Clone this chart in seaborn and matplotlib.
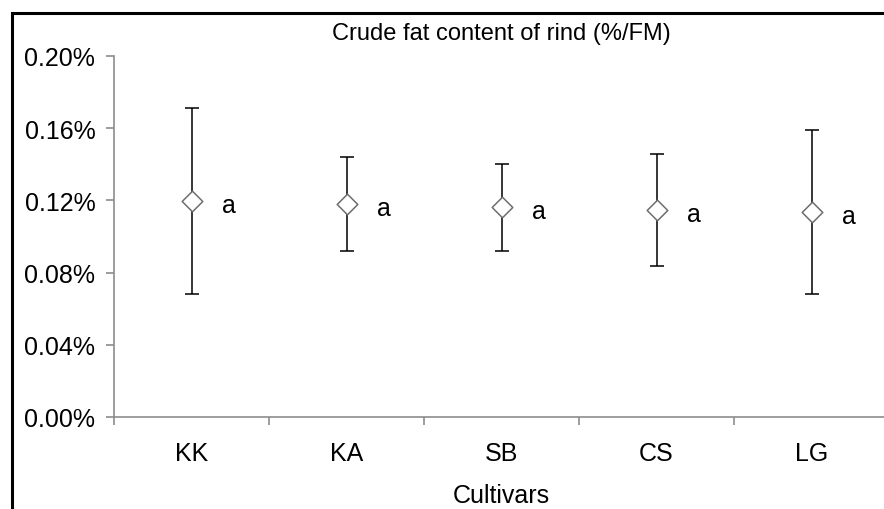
import matplotlib
matplotlib.use("Agg")
import matplotlib.pyplot as plt
from matplotlib.patches import Rectangle
from matplotlib.ticker import FuncFormatter, FixedLocator
import pandas as pd
import seaborn as sns

# values (crude fat, % of fresh mass)
cultivars = ["KK", "KA", "SB", "CS", "LG"]
fat_mean = [0.1197, 0.1180, 0.1163, 0.1147, 0.1136]
fat_err = [0.0515, 0.0263, 0.0241, 0.0310, 0.0454]
letters = ["a", "a", "a", "a", "a"]

df = pd.DataFrame({"cultivar": cultivars, "fat": fat_mean, "err": fat_err, "letter": letters})

sns.set_style("white")
plt.rcParams["font.family"] = ["Liberation Sans", "DejaVu Sans"]
plt.rcParams["text.color"] = "black"
plt.rcParams["xtick.labelcolor"] = "black"
plt.rcParams["ytick.labelcolor"] = "black"
plt.rcParams["axes.labelcolor"] = "black"

fig = plt.figure(figsize=(8.84, 5.10), dpi=100)
ax = fig.add_axes([114 / 884, 1 - 418 / 510, 775 / 884, (418 - 57) / 510])

# error bars first, markers on top
ax.errorbar(range(len(df)), df["fat"], yerr=df["err"], fmt="none",
            ecolor="black", elinewidth=1.1, capsize=5, capthick=1.1, zorder=2)
sns.scatterplot(data=df, x="cultivar", y="fat", ax=ax, marker="D", s=110,
                facecolor="white", edgecolor="#6e6e6e", linewidth=1.1, zorder=3)

for i, row in df.iterrows():
    ax.text(i + 0.24, row["fat"] - 0.0022, row["letter"], fontsize=18,
            ha="center", va="center", color="black")

ax.set_xlim(-0.5, 4.5)
ax.set_ylim(0, 0.20)
ax.set_yticks([0, 0.04, 0.08, 0.12, 0.16, 0.20])
ax.yaxis.set_major_formatter(FuncFormatter(lambda v, p: f"{v:.2f}%"))
ax.set_xticks(range(len(cultivars)))
ax.set_xticklabels(cultivars)
ax.xaxis.set_minor_locator(FixedLocator([-0.5, 0.5, 1.5, 2.5, 3.5, 4.5]))
ax.tick_params(axis="x", which="major", length=0, pad=17, labelsize=18, labelcolor="black")
ax.tick_params(axis="x", which="minor", length=6, color="#8c8c8c", width=1.2, direction="out", bottom=True)
ax.tick_params(axis="y", length=6, color="#8c8c8c", width=1.2, direction="out", left=True,
               labelsize=18, pad=7.5, labelcolor="black")

for s in ["top", "right"]:
    ax.spines[s].set_visible(False)
for s in ["left", "bottom"]:
    ax.spines[s].set_color("#8c8c8c")
    ax.spines[s].set_linewidth(1.2)

ax.set_xlabel("Cultivars", fontsize=18, labelpad=13.5, color="black")
ax.set_ylabel("")
ax.set_title("Crude fat content of rind (%/FM)", fontsize=17, pad=12, color="black")

# outer frame of the figure panel
fig.patches.append(Rectangle((12 / 884, -0.1), 1.2, 1 - 14 / 510 + 0.1, transform=fig.transFigure,
                             fill=False, edgecolor="black", linewidth=2.2, clip_on=False))

fig.savefig("out.png", dpi=100)
